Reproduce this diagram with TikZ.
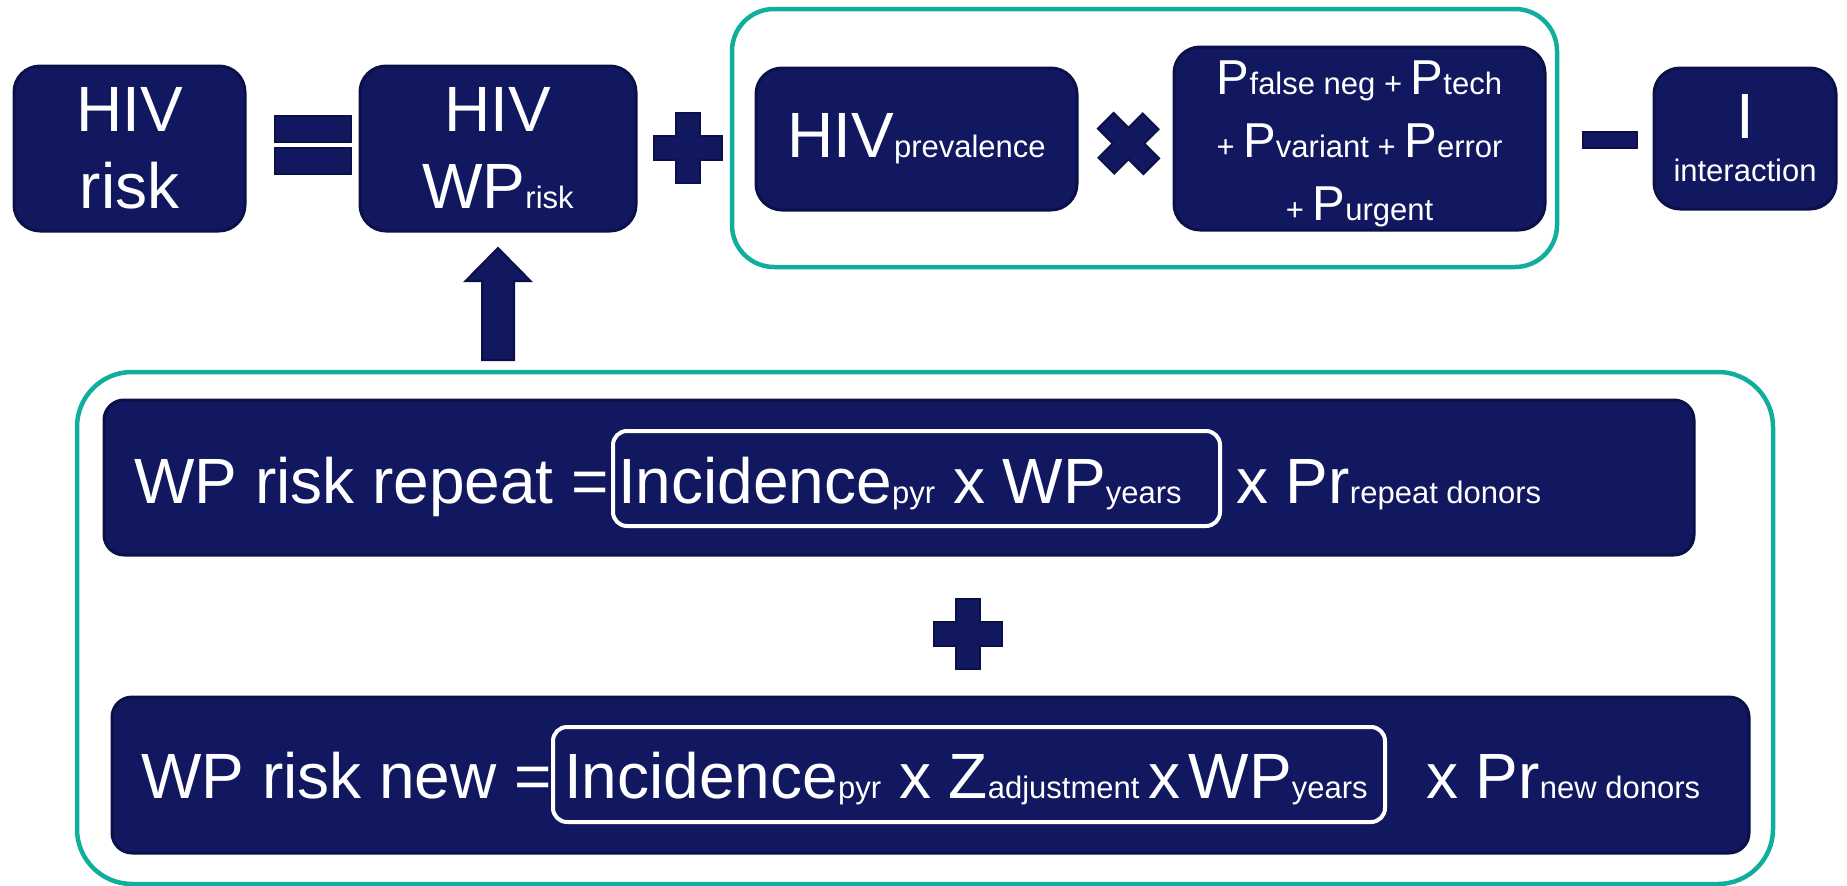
\documentclass[tikz,border=0pt]{standalone}
\usepackage{fontspec}
\setmainfont{Liberation Sans}
\usepackage{tikz}
\usetikzlibrary{positioning}
\definecolor{navy}{HTML}{121860}
\definecolor{navyline}{HTML}{0B1048}
\definecolor{tealframe}{HTML}{10AE9C}
\newcommand\lo[1]{{\fontsize{31}{31}\selectfont #1}}
\tikzset{
  box/.style={draw=navyline, line width=3pt, fill=navy, rounded corners=26pt,
      text=white, inner sep=0pt, align=center, font=\fontsize{64}{77}\selectfont},
  tealbox/.style={draw=tealframe, line width=4.5pt, inner sep=0pt},
  subbox/.style={draw=white, line width=4pt, rounded corners=14pt, inner sep=0pt},
  txt/.style={text=white, inner sep=0pt, anchor=base west, font=\fontsize{64}{77}\selectfont},
  opsign/.style={draw=navyline, line width=2pt, fill=navy},
  plusop/.pic={
      \draw[opsign] (-34,-12) -- (-12,-12) -- (-12,-35) -- (12,-35) -- (12,-12) -- (34,-12)
        -- (34,12) -- (12,12) -- (12,35) -- (-12,35) -- (-12,12) -- (-34,12) -- cycle;
    },
  minusop/.pic={
      \draw[opsign] (-27,-8) rectangle (27,8);
    },
  eqop/.pic={
      \draw[opsign] (-38,-29) rectangle (38,-3);
      \draw[opsign] (-38,3) rectangle (38,29);
    },
}
\begin{document}
\begin{tikzpicture}[x=1pt, y=-1pt]
      \useasboundingbox (0,0) rectangle (1847,886);

      % teal frames
      \node [tealbox, rounded corners=42pt, minimum width=825pt, minimum height=258pt] (topframe) at (1144.5,138) {};
      \node [tealbox, rounded corners=55pt, minimum width=1696pt, minimum height=512pt] (lowframe) at (925,628) {};

      % top row
      \node [box, minimum width=231pt, minimum height=165pt] (hivrisk) at (129.5,148.5) {HIV\\risk};
      \node [box, minimum width=276pt, minimum height=165pt] (wpbox) at (498,148.5) {HIV\\WP\lo{risk}};
      \node [box, minimum width=321pt, minimum height=142pt] (prevbox) at (916.5,139) {HIV\lo{prevalence}};
      \node [box, minimum width=371pt, minimum height=183pt] (pbox) at (1359.5,138.5) {};
      \node [box, draw=none, fill=none, font=\fontsize{49}{63}\selectfont] (ptext) at ([yshift=-5pt]pbox.center)
      {P\lo{false neg + }P\lo{tech}\\\lo{+ }P\lo{variant + }P\lo{error}\\\lo{+ }P\lo{urgent}};
      \node [box, minimum width=182pt, minimum height=141pt] (ibox) at (1745,138.5) {I\\[-34pt]\lo{interaction}};

      \pic at (313,145) {eqop};
      \pic [rotate=45, scale=0.92] at (1128.5,143.5) {plusop};
      \pic at (1610,140) {minusop};
      \foreach \Point in {(687.5,148), (968,633.5)}{
          \pic at \Point {plusop};
        }

      % block arrow up to WP risk
      \draw [opsign] (wpbox.south) ++(0,15.5) -- ++(32.5,33) -- ++(-16.5,0) -- ++(0,79)
        -- ++(-32,0) -- ++(0,-79) -- ++(-16.5,0) -- cycle;

      % lower formulas
      \node [box, rounded corners=20pt, minimum width=1590pt, minimum height=155pt] (repbox) at (899,477.5) {};
      \node [box, rounded corners=20pt, minimum width=1637pt, minimum height=156pt] (newbox) at (930.5,775) {};
      \node [subbox, minimum width=607pt, minimum height=95pt] (repsub) at (916.5,478.5) {};
      \node [subbox, minimum width=832pt, minimum height=95pt] (newsub) at (969,774.5) {};

      \node [txt] (reptxt) at (134,503) {WP risk repeat =};
      \node [txt] (repinc) at (618,503) {Incidence\lo{pyr} x WP\lo{years}};
      \node [txt] (reppr) at (1236,503) {x Pr\lo{repeat donors}};
      \node [txt] (newtxt) at (141,798) {WP risk new =};
      \node [txt] (newinc) at (564,798) {Incidence\lo{pyr} x Z\lo{adjustment }x\lo{ }WP\lo{years}};
      \node [txt] (newpr) at (1426,798) {x Pr\lo{new donors}};
\end{tikzpicture}
\end{document}
